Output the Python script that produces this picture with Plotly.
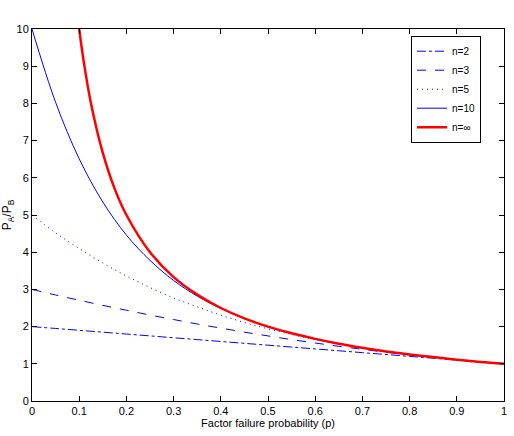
import plotly.graph_objects as go

# Values
p_vals = [0, 0.05, 0.1, 0.15, 0.2, 0.25, 0.3, 0.35, 0.4, 0.45, 0.5,
          0.55, 0.6, 0.65, 0.7, 0.75, 0.8, 0.85, 0.9, 0.95, 1.0]
n2 = [2.00, 1.95, 1.90, 1.85, 1.80, 1.75, 1.70, 1.65, 1.60, 1.55, 1.50,
      1.45, 1.40, 1.35, 1.30, 1.25, 1.20, 1.15, 1.10, 1.05, 1.00]
n3 = [3.00, 2.85, 2.71, 2.57, 2.44, 2.31, 2.19, 2.07, 1.96, 1.85, 1.75,
      1.65, 1.56, 1.47, 1.39, 1.31, 1.24, 1.17, 1.11, 1.05, 1.00]
n5 = [5.00, 4.52, 4.10, 3.71, 3.36, 3.05, 2.77, 2.53, 2.31, 2.11, 1.94,
      1.79, 1.65, 1.53, 1.43, 1.33, 1.25, 1.18, 1.11, 1.05, 1.00]
n10 = [10.00, 8.03, 6.51, 5.35, 4.46, 3.78, 3.24, 2.82, 2.49, 2.22, 2.00,
       1.82, 1.67, 1.54, 1.43, 1.33, 1.25, 1.18, 1.11, 1.05, 1.00]
p_inf = [0.1, 0.11, 0.125, 0.15, 0.175, 0.2, 0.25, 0.3, 0.35, 0.4, 0.45, 0.5,
         0.55, 0.6, 0.65, 0.7, 0.75, 0.8, 0.85, 0.9, 0.95, 1.0]
ninf = [10.00, 9.09, 8.00, 6.67, 5.71, 5.00, 4.00, 3.33, 2.86, 2.50, 2.22, 2.00,
        1.82, 1.67, 1.54, 1.43, 1.33, 1.25, 1.18, 1.11, 1.05, 1.00]

x_ticks = [0, 0.1, 0.2, 0.3, 0.4, 0.5, 0.6, 0.7, 0.8, 0.9, 1]
x_labels = ["0", "0.1", "0.2", "0.3", "0.4", "0.5", "0.6", "0.7", "0.8", "0.9", "1"]
y_ticks = list(range(0, 11))

BLUE = "#0000FF"
RED = "#FF0000"

fig = go.Figure()
fig.add_trace(go.Scatter(x=p_vals, y=n2, mode="lines", name="n=2",
                         line=dict(color=BLUE, width=1, dash="dashdot", shape="spline")))
fig.add_trace(go.Scatter(x=p_vals, y=n3, mode="lines", name="n=3",
                         line=dict(color=BLUE, width=1, dash="dash", shape="spline")))
fig.add_trace(go.Scatter(x=p_vals, y=n5, mode="lines", name="n=5",
                         line=dict(color=BLUE, width=1, dash="1px,4px", shape="spline")))
fig.add_trace(go.Scatter(x=p_vals, y=n10, mode="lines", name="n=10",
                         line=dict(color=BLUE, width=1, shape="spline")))
fig.add_trace(go.Scatter(x=p_inf, y=ninf, mode="lines", name="n=\u221e",
                         line=dict(color=RED, width=2.5, shape="spline")))

axis_common = dict(
    showgrid=False, zeroline=False, showline=True, linecolor="black", linewidth=1,
    mirror="ticks", ticks="inside", ticklen=5, tickcolor="black", tickwidth=1,
    automargin=False,
    tickfont=dict(family="Liberation Sans, Arial, sans-serif", size=11, color="black"),
)

fig.update_layout(
    width=514, height=436,
    margin=dict(l=32, r=10, t=29, b=35),
    paper_bgcolor="white", plot_bgcolor="white",
    font=dict(family="Liberation Sans, Arial, sans-serif", size=11, color="black"),
    xaxis=dict(range=[0, 1], tickvals=x_ticks, ticktext=x_labels,
               title=dict(text="Factor failure probability (p)", standoff=2,
                          font=dict(size=11)),
               **axis_common),
    yaxis=dict(range=[0, 10], tickvals=y_ticks,
               title=dict(text="P<sub>A</sub>/P<sub>B</sub>", standoff=8,
                          font=dict(size=12)),
               **axis_common),
    legend=dict(x=0.803, y=0.982, xanchor="left", yanchor="top",
                bgcolor="white", bordercolor="black", borderwidth=1,
                font=dict(size=10), itemwidth=30, tracegroupgap=0),
    showlegend=True,
)

fig.write_html("out.html")
